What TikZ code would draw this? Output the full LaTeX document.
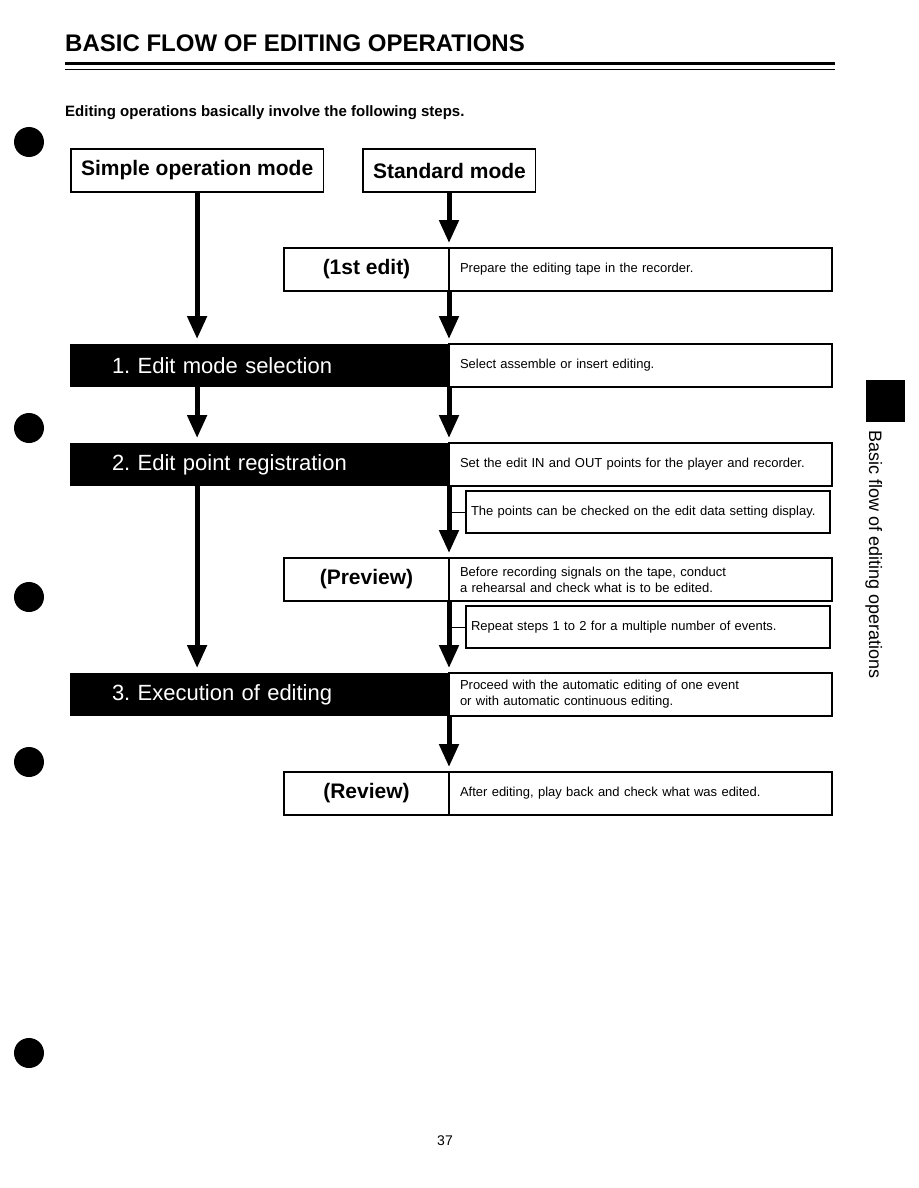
\documentclass[tikz,border=0pt]{standalone}
\usepackage{fontspec}
\setmainfont{Liberation Sans}
\usetikzlibrary{
    arrows.meta,
    positioning
}
\frenchspacing
\hyphenpenalty=10000

\begin{document}
\begin{tikzpicture}[
x=1pt, y=-1pt,
modebox/.style={
draw, line width=1.2pt, outer sep=0pt,
minimum height=43pt, inner xsep=10pt,
anchor=north west,
font=\fontsize{21}{25}\selectfont\bfseries
},
stagebox/.style={
modebox, minimum width=165pt
},
darkbox/.style={
fill=black, text=white, outer sep=0pt,
minimum height=43pt, text width=295pt, inner xsep=42pt,
align=left, anchor=north west,
font=\fontsize{22}{26}\selectfont
},
infobox/.style={
draw, line width=1.2pt, outer sep=0pt,
minimum height=43pt, text width=361pt, inner xsep=11pt,
align=left,
font=\fontsize{13}{16}\selectfont
},
checkbox/.style={
infobox, minimum height=42pt, text width=354pt, inner xsep=5pt,
anchor=north west
},
flow/.style={
line width=5pt,
-{Triangle[width=19pt,length=23pt]},
shorten >=5pt
}
]
\useasboundingbox (0,0) rectangle (918,1188);

% binder holes
\foreach \y in {142,428,597,762,1053}
  \fill (29,\y) circle[radius=15];

% heading
\node[anchor=base west, inner sep=0pt, font=\fontsize{24}{28}\selectfont\bfseries]
  (title) at (65,52) {BASIC FLOW OF EDITING OPERATIONS};
\draw[line width=2.5pt] (65,63.5) -- (835,63.5);
\draw[line width=1pt] (65,69.5) -- (835,69.5);
\node[anchor=base west, inner sep=0pt, font=\fontsize{15}{18}\selectfont\bfseries]
  (intro) at (65,117) {Editing operations basically involve the following steps.};

% side tab
\fill (866,380) rectangle (905,422);
\node[rotate=-90, anchor=base west, inner sep=0pt, font=\fontsize{18}{22}\selectfont]
  (tab) at (869,430) {Basic flow of editing operations};

% modes
\node[modebox] (simple) at (71,149) {Simple operation mode};
\node[modebox] (standard) at (363,149) {Standard mode};

% 1st edit
\node[stagebox] (firstedit) at (284,248) {(1st edit)};
\node[infobox, right=0pt of firstedit] (firstnote)
{Prepare the editing tape in the recorder.};

% step 1
\node[darkbox] (modesel) at (70,344) {1. Edit mode selection};
\node[infobox, right=0pt of modesel] (modenote)
{Select assemble or insert editing.};

% step 2
\node[darkbox] (pointreg) at (70,443) {2. Edit point registration};
\node[infobox, right=0pt of pointreg] (pointnote)
{Set the edit IN and OUT points for the player and recorder.};
\node[checkbox] (pointcheck) at (466,491)
{The points can be checked on the edit data setting display.};

% preview
\node[stagebox] (preview) at (284,558) {(Preview)};
\node[infobox, right=0pt of preview] (previewnote)
{Before recording signals on the tape, conduct\\a rehearsal and check what is to be edited.};
\node[checkbox] (repeatnote) at (466,606)
{Repeat steps 1 to 2 for a multiple number of events.};

% step 3
\node[darkbox] (execute) at (70,673) {3. Execution of editing};
\node[infobox, right=0pt of execute] (executenote)
{Proceed with the automatic editing of one event\\or with automatic continuous editing.};

% review
\node[stagebox] (review) at (284,772) {(Review)};
\node[infobox, right=0pt of review] (reviewnote)
{After editing, play back and check what was edited.};

% flow arrows
\draw[flow] (simple.south) -- (simple.south |- modesel.north);
\draw[flow] (simple.south |- modesel.south) -- (simple.south |- pointreg.north);
\draw[flow] (simple.south |- pointreg.south) -- (simple.south |- execute.north);
\draw[flow] (standard.south -| firstnote.west) -- (firstnote.north west);
\draw[flow] (firstnote.south west) -- (modenote.north west);
\draw[flow] (modenote.south west) -- (pointnote.north west);
\draw[flow] (pointnote.south west) -- (previewnote.north west);
\draw[flow] (previewnote.south west) -- (executenote.north west);
\draw[flow] (executenote.south west) -- (reviewnote.north west);

% side notes
\draw[line width=1pt] (pointcheck.west) -- (pointcheck.west -| pointnote.west);
\draw[line width=1pt] (repeatnote.west) -- (repeatnote.west -| previewnote.west);

% page number
\node[anchor=base, inner sep=0pt, font=\fontsize{14}{16}\selectfont]
  (pagenum) at (445,1145) {37};
\end{tikzpicture}
\end{document}
